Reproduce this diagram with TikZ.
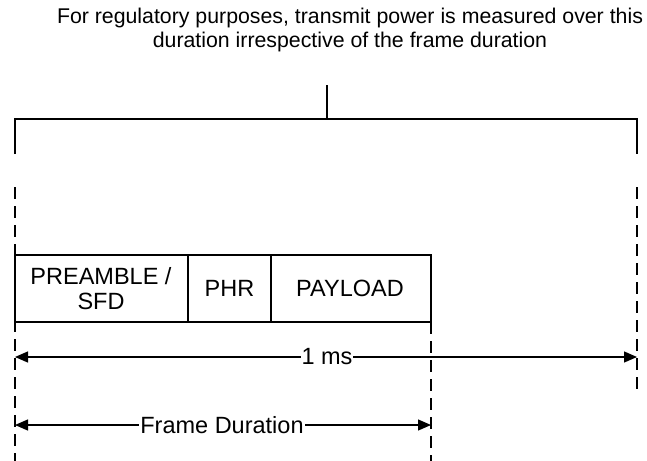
\documentclass[tikz,border=0pt]{standalone}
\usepackage{fontspec}
\setmainfont{Liberation Sans}
\usetikzlibrary{arrows.meta}
\begin{document}
\begin{tikzpicture}[x=1pt,y=-1pt,
  line/.style={line width=1.3pt,black},
  dline/.style={line width=1.3pt,black,dash pattern=on 12pt off 7pt},
  dim/.style={line width=1.3pt,black,{Triangle[length=13pt,width=11pt]}-{Triangle[length=13pt,width=11pt]}},
  lbl/.style={font=\fontsize{23.5}{26}\selectfont,inner sep=1pt,fill=white},
  cell/.style={font=\fontsize{23.5}{25}\selectfont,align=center,inner sep=0pt}]
\useasboundingbox (0,0) rectangle (647,460);
% top text
\node[font=\fontsize{21.3}{24.5}\selectfont,align=center] (note) at (350,30)
  {For regulatory purposes, transmit power is measured over this\\duration irrespective of the frame duration};
% bracket
\coordinate (stemtop) at (327,85);
\coordinate (stembot) at (327,119);
\coordinate (bl) at (15,119);
\coordinate (br) at (637,119);
\coordinate (bld) at (15,154);
\coordinate (brd) at (637,154);
\draw[line] (stemtop) -- (stembot);
\draw[line] (bld) -- (bl) -- (br) -- (brd);
% dashed guides
\coordinate (lt) at (15,187);
\coordinate (lb) at (15,462);
\coordinate (rt) at (637,187);
\coordinate (rb) at (637,394);
\coordinate (mt) at (431,322);
\coordinate (mb) at (431,462);
\draw[dline] (lt) -- (lb);
\draw[dline] (rt) -- (rb);
\draw[dline] (mt) -- (mb);
% box
\coordinate (boxtl) at (15,255);
\coordinate (boxbr) at (431,322);
\draw[line] (boxtl) rectangle (boxbr);
\coordinate (d1t) at (188,255);
\coordinate (d1b) at (188,322);
\coordinate (d2t) at (271,255);
\coordinate (d2b) at (271,322);
\draw[line] (d1t) -- (d1b);
\draw[line] (d2t) -- (d2b);
\node[cell] (pre) at (101,288.5) {PREAMBLE /\\SFD};
\node[cell] (phr) at (229.5,288.5) {PHR};
\node[cell] (pay) at (350,288.5) {PAYLOAD};
% dimension arrows
\coordinate (a1l) at (15,357);
\coordinate (a1r) at (637,357);
\draw[dim] (a1l) -- (a1r);
\node[lbl] (ms) at (327,357) {1 ms};
\coordinate (a2l) at (15,425);
\coordinate (a2r) at (431,425);
\draw[dim] (a2l) -- (a2r);
\node[lbl] (fd) at (222,425) {Frame Duration};
\end{tikzpicture}
\end{document}
